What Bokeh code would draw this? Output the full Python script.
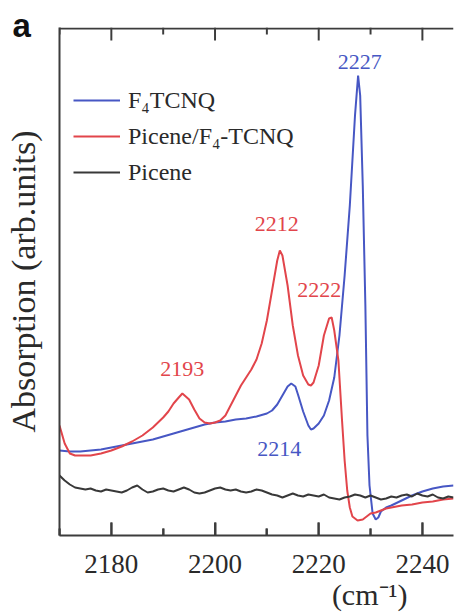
from bokeh.plotting import figure
from bokeh.models import (Range1d, FixedTicker, Legend, LegendItem, Title, Span,
                          ColumnDataSource)
from bokeh.core.properties import value
from bokeh.embed import file_html
from bokeh.resources import INLINE

# ---- data (wavenumber in cm^-1, absorption in arbitrary units) ----
wn_f4 = [2170, 2172, 2174, 2176, 2178, 2180, 2182, 2184, 2186, 2188, 2190, 2192, 2194,
         2196, 2198, 2200, 2202, 2204, 2206, 2208, 2210, 2211, 2212, 2213, 2214, 2214.7,
         2215.5, 2216, 2217, 2218, 2218.5, 2219, 2220, 2221, 2222, 2223, 2224, 2225, 2226,
         2227, 2227.6, 2228, 2228.5, 2229, 2229.4, 2229.8, 2230.4, 2231, 2231.5, 2232,
         2233, 2234, 2236, 2238, 2240, 2242, 2244, 2246]
abs_f4 = [85, 84, 84, 85, 86, 88, 90, 92, 94, 96, 99, 102, 105,
          108, 111, 113, 114, 116, 117, 119, 122, 125, 131, 140, 149, 152,
          149, 141, 124, 110, 106, 107, 112, 120, 135, 158, 200, 260, 330,
          420, 460, 440, 350, 230, 100, 50, 22, 16, 18, 24,
          28, 30, 35, 40, 44, 47, 49, 50]

wn_mix = [2170, 2171, 2172, 2173, 2174, 2176, 2178, 2180, 2182, 2184, 2186, 2188, 2190,
          2191, 2192, 2193, 2193.7, 2195, 2196, 2197, 2198, 2199, 2200, 2201, 2202, 2203,
          2204, 2205, 2206, 2207, 2208, 2209, 2210, 2211, 2212, 2212.5, 2213, 2214, 2215,
          2216, 2217, 2218, 2218.5, 2219, 2220, 2221, 2222, 2222.5, 2223, 2223.8, 2224.5,
          2225, 2225.5, 2226, 2226.5, 2227.5, 2228.5, 2229, 2230, 2231, 2232, 2233, 2234,
          2236, 2238, 2240, 2242, 2244, 2246]
abs_mix = [110, 92, 82, 80, 80, 80, 82, 85, 89, 94, 100, 108, 118,
           124, 132, 138, 142, 136, 126, 117, 113, 112, 113, 115, 120, 130,
           140, 150, 158, 166, 176, 192, 215, 245, 275, 285, 280, 250, 210,
           180, 160, 151, 150, 153, 170, 200, 217, 218, 205, 175, 115,
           75, 45, 28, 19, 15, 16, 18, 22, 23, 25, 27, 28,
           30, 31, 33, 34, 36, 37]

wn_pic = list(range(2170, 2247))
abs_pic = [60, 55, 51, 48, 47, 46, 47, 45, 44, 46, 45, 44, 43, 45, 48, 50, 46, 43, 44, 46,
           47, 45, 44, 46, 48, 46, 43, 42, 43, 45, 47, 48, 46, 45, 46, 44, 43, 44, 46, 45,
           43, 41, 40, 38, 40, 42, 40, 39, 41, 40, 39, 41, 38, 37, 36, 38, 39, 41, 40, 38,
           40, 38, 36, 37, 39, 38, 40, 41, 39, 42, 40, 39, 41, 38, 37, 39, 38]

series_names = ["F\u2084TCNQ", "Picene/F\u2084-TCNQ", "Picene"]
peak_labels = ["2227", "2214", "2212", "2222", "2193"]

major_ticks = [2180, 2200, 2220, 2240]
minor_ticks = [2170, 2190, 2210, 2230]

BLUE = "#4757c4"
RED = "#e2454b"
BLACK = "#383838"
AX = "#3c3c3c"
SERIF = "Liberation Serif"

Y0, Y1 = 0, 508
MAJ_LEN, MIN_LEN = 13, 7
TICK_W = 0.38  # tick thickness in x data units (about 2 px)

p = figure(width=454, height=616, output_backend="svg", toolbar_location=None,
           x_range=Range1d(2170, 2246), y_range=Range1d(Y0, Y1),
           min_border_left=59, min_border_right=1, min_border_top=27, min_border_bottom=81)
p.outline_line_color = None
p.xgrid.visible = False
p.ygrid.visible = False

# inward tick marks (bottom and top frame edges) at the axis tick positions
p.vbar(x=major_ticks, bottom=Y0, top=Y0 + MAJ_LEN, width=TICK_W, fill_color=AX, line_color=None)
p.vbar(x=minor_ticks, bottom=Y0, top=Y0 + MIN_LEN, width=TICK_W, fill_color=AX, line_color=None)
p.vbar(x=major_ticks, bottom=Y1 - MAJ_LEN, top=Y1, width=TICK_W, fill_color=AX, line_color=None)
p.vbar(x=minor_ticks, bottom=Y1 - MIN_LEN, top=Y1, width=TICK_W, fill_color=AX, line_color=None)

r_f4 = p.line(wn_f4, abs_f4, line_color=BLUE, line_width=2)
r_mix = p.line(wn_mix, abs_mix, line_color=RED, line_width=2)
r_pic = p.line(wn_pic, abs_pic, line_color=BLACK, line_width=2)

# peak annotations as text glyphs
ann = ColumnDataSource(dict(
    x=[2227.9, 2212.4, 2211.9, 2220.1, 2193.7],
    y=[474, 87, 312, 246, 167],
    text=peak_labels,
    color=[BLUE, BLUE, RED, RED, RED]))
p.text(x="x", y="y", text="text", source=ann, text_color="color",
       text_align="center", text_baseline="middle",
       text_font=value(SERIF), text_font_size="22px")

# top frame edge
p.add_layout(Span(location=Y1 - 1, dimension="width", line_color=AX, line_width=2))

# bottom axis with inward ticks
xa = p.xaxis[0]
xa.ticker = FixedTicker(ticks=major_ticks, minor_ticks=minor_ticks)
xa.major_tick_in = MAJ_LEN
xa.major_tick_out = 0
xa.minor_tick_in = MIN_LEN
xa.minor_tick_out = 0
xa.major_tick_line_color = AX
xa.major_tick_line_width = 2
xa.minor_tick_line_color = AX
xa.minor_tick_line_width = 2
xa.axis_line_width = 2
xa.axis_line_color = AX
xa.major_label_text_font = SERIF
xa.major_label_text_font_size = "27px"
xa.major_label_text_color = "#2a2a2a"
xa.major_label_standoff = 19

# left axis (line + label only)
ya = p.yaxis[0]
ya.ticker = FixedTicker(ticks=[Y0], minor_ticks=[])
ya.major_label_overrides = {Y0: ""}
ya.major_tick_in = 0
ya.major_tick_out = 0
ya.minor_tick_in = 0
ya.minor_tick_out = 0
ya.major_label_standoff = 0
ya.axis_line_width = 2
ya.axis_line_color = AX
ya.axis_label = "Absorption (arb.units)"
ya.axis_label_text_font = SERIF
ya.axis_label_text_font_style = "normal"
ya.axis_label_text_font_size = "34px"
ya.axis_label_text_color = "#2a2a2a"
ya.axis_label_standoff = 18

# legend
legend = Legend(items=[LegendItem(label=series_names[0], renderers=[r_f4]),
                       LegendItem(label=series_names[1], renderers=[r_mix]),
                       LegendItem(label=series_names[2], renderers=[r_pic])],
                location=(14, 345), padding=0, margin=0, spacing=0,
                glyph_width=47, glyph_height=36, label_height=36, label_standoff=8,
                label_text_font=SERIF, label_text_font_size="24px",
                label_text_color="#2a2a2a",
                border_line_alpha=0, background_fill_alpha=0)
p.add_layout(legend)

# panel letter (title above) and x unit label (title below)
p.title = Title(text="a", align="left", offset=-47, standoff=-32, vertical_align="bottom",
                text_font="Liberation Sans", text_font_style="bold",
                text_font_size="33px", text_color="#111111")
p.add_layout(Title(text="(cm\u207b\u00b9)", align="right", offset=46, standoff=2,
                   vertical_align="middle", text_font=SERIF, text_font_style="normal",
                   text_font_size="30px", text_color="#2a2a2a"), "below")

open("out.html", "w").write(file_html(p, INLINE))
